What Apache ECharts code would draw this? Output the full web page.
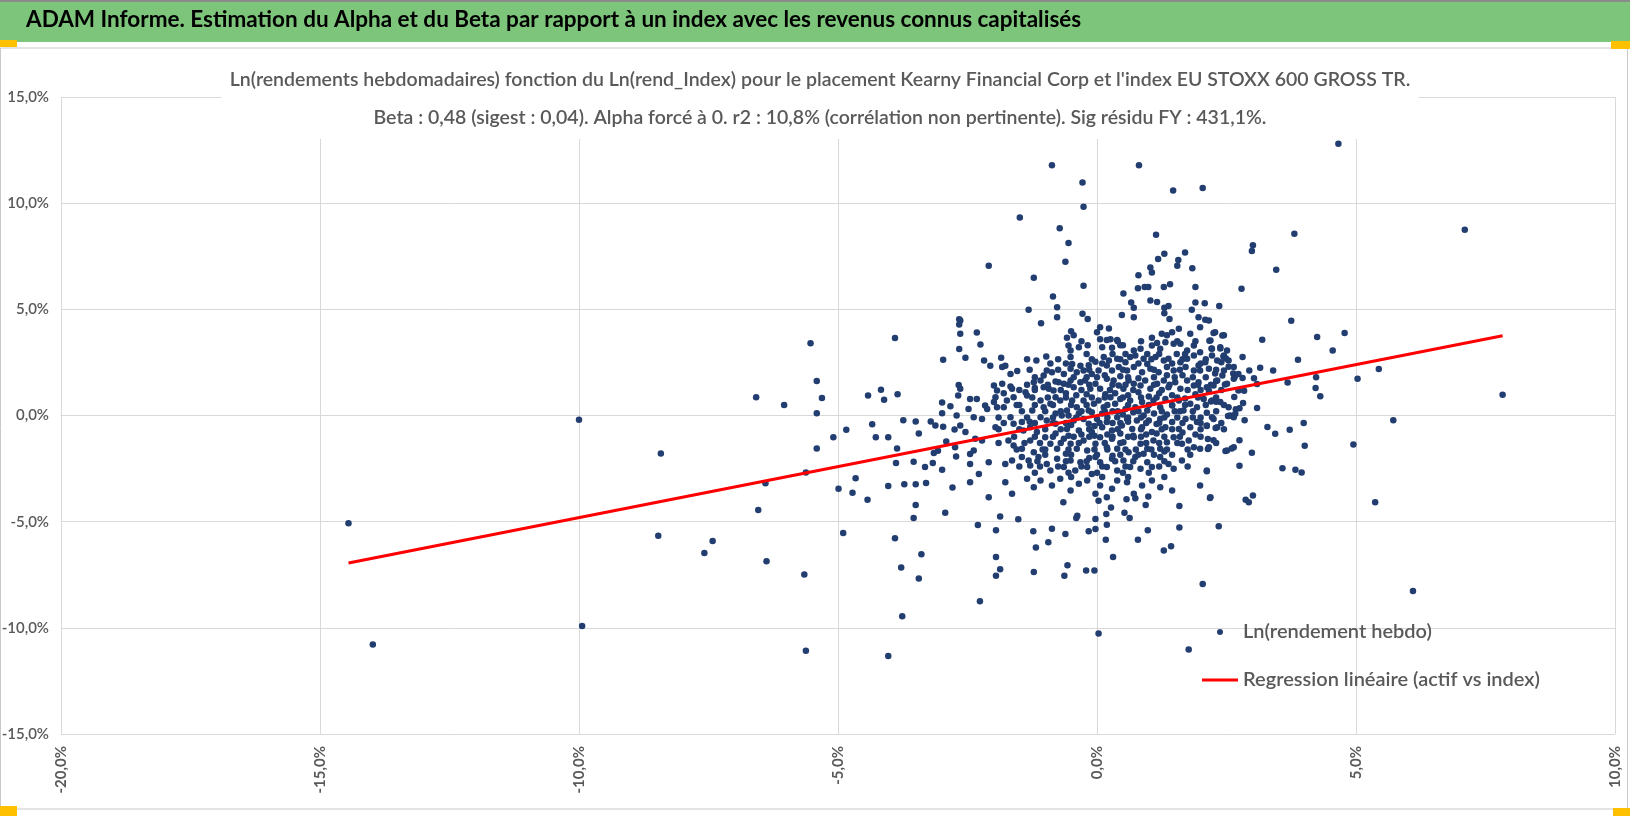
<!DOCTYPE html>
<html>
<head>
<meta charset="utf-8">
<title>ADAM Informe - Alpha et Beta</title>
<script src="https://cdn.jsdelivr.net/npm/echarts@6/dist/echarts.min.js"></script>
<style>
  html, body { margin: 0; padding: 0; background: #fff; overflow: hidden; }
  #main { width: 1630px; height: 816px; }
</style>
</head>
<body>
<div id="main"></div>
<script>
const headerText = 'ADAM Informe. Estimation du Alpha et du Beta par rapport à un index avec les revenus connus capitalisés';
const titleLine1 = "Ln(rendements hebdomadaires) fonction du Ln(rend_Index) pour le placement Kearny Financial Corp et l'index EU STOXX 600 GROSS TR.";
const titleLine2 = 'Beta : 0,48 (sigest : 0,04). Alpha forcé à 0. r2 : 10,8% (corrélation non pertinente). Sig résidu FY : 431,1%.';
const seriesNames = ['Ln(rendement hebdo)', 'Regression linéaire (actif vs index)'];

const xTickValues = [-20, -15, -10, -5, 0, 5, 10];
const xTickLabels = ['-20,0%', '-15,0%', '-10,0%', '-5,0%', '0,0%', '5,0%', '10,0%'];
const yTickValues = [-15, -10, -5, 0, 5, 10, 15];
const yTickLabels = ['-15,0%', '-10,0%', '-5,0%', '0,0%', '5,0%', '10,0%', '15,0%'];

// [index %, asset %] - far left points
const leftPoints = [
  [-14.45,-5.08],[-13.98,-10.79],[-10.0,-0.20],[-9.94,-9.91],[-8.42,-1.79],[-8.47,-5.66],
  [-6.58,0.86],[-6.04,0.49],[-6.40,-3.19],[-6.54,-4.45],[-7.42,-5.91],[-7.58,-6.48],[-6.38,-6.86]
];

// upper outliers and left-centre points
const upperPoints = [
  [-0.87,11.79],[-0.28,10.97],[-0.26,9.83],[0.81,11.79],[1.47,10.6],[2.04,10.72],[-1.49,9.33],
  [-0.72,8.82],[-0.55,8.12],[-0.61,7.24],[-2.09,7.05],[-1.22,6.49],[-0.26,6.11],[-0.85,5.61],
  [1.14,8.51],[1.30,7.62],[1.18,7.37],[1.70,7.68],[1.57,7.32],[1.55,7.05],[1.84,6.93],[0.80,6.61],
  [1.03,6.97],[1.06,6.74],[0.79,5.99],[0.92,6.05],[0.99,6.05],[1.29,6.05],[1.41,6.18],[1.90,6.05],
  [0.51,5.74],
  [-5.53,3.40],[-5.41,1.63],[-5.31,0.82],[-5.41,0.11],[-3.90,3.65],[-4.42,0.94],[-4.17,1.21],
  [-4.11,0.74],[-3.85,1.0],[-2.97,2.63],[-2.66,4.53],[-2.66,4.28],[-2.66,3.13],[-2.67,1.44],
  [-2.68,0.94],[-2.99,0.61],[-2.83,0.44],[-2.99,0.11],[-2.71,0.0]
];

// lower outliers and left-centre points
const lowerPoints = [
  [-5.65,-7.49],[-5.62,-11.08],[-4.90,-5.53],[-4.99,-3.45],[-4.66,-2.95],[-4.72,-3.64],[-4.43,-3.97],
  [-5.09,-1.03],[-4.84,-0.67],[-5.41,-1.55],[-5.62,-2.68],[-4.34,-0.41],[-4.27,-1.03],[-4.03,-1.03],
  [-3.86,-1.55],[-3.88,-2.24],[-4.03,-3.32],[-3.72,-3.24],[-3.50,-3.24],[-3.30,-3.18],[-3.50,-4.22],
  [-3.54,-4.83],[-3.90,-5.78],[-3.39,-6.54],[-3.78,-7.16],[-3.44,-7.68],[-3.76,-9.45],[-4.03,-11.33],
  [-3.74,-0.22],[-3.50,-0.28],[-3.44,-0.85],[-3.21,-0.28],[-3.12,-0.47],[-2.97,-0.53],[-3.54,-2.18],
  [-3.32,-2.43],[-3.17,-2.24],[-3.15,-1.77],[-3.07,-1.66],[-2.99,-2.55],[-2.91,-1.22],[-2.93,-4.58],
  [-2.79,-3.39],[-2.74,-1.50],[-2.72,-1.93],[-2.75,-0.66],
  [-2.30,-5.16],[-2.26,-8.75],[-1.95,-5.41],[-1.95,-6.66],[-1.95,-7.55],[-1.87,-7.24],[-1.87,-4.76],
  [-1.52,-4.89],[-1.23,-5.45],[-1.18,-6.22],[-1.22,-7.37],[-0.94,-5.97],[-0.87,-5.33],[-0.61,-5.58],
  [-0.57,-7.05],[-0.63,-7.55],[-0.65,-4.08],[-0.40,-4.83],[-0.38,-4.72],[-0.16,-5.45],[-0.21,-7.30],
  [-0.05,-7.30],[-0.03,-5.34],[-0.03,-4.87],[0.03,-10.27],[0.17,-5.85],[0.31,-6.66],[0.19,-5.14],
  [0.18,-4.64],[0.27,-4.33],[0.53,-4.58],[0.63,-4.83],[0.79,-5.85],[0.98,-5.41],[1.29,-6.36],
  [1.43,-6.16],[1.59,-5.28],[1.59,-4.26],[1.77,-11.02],[2.04,-7.93],[2.35,-5.22],
  [0.94,-4.22],[0.03,-4.02],[0.74,-3.9],[0.57,-3.95],[0.99,-3.82]
];

// right side
const rightPoints = [
  [4.66,12.80],[7.10,8.75],[3.81,8.56],[3.01,8.02],[2.99,7.75],[3.46,6.86],[2.79,5.97],[3.75,4.46],
  [4.78,3.89],[4.25,3.70],[3.19,3.57],[4.55,3.06],[3.88,2.62],[2.81,2.76],[2.94,2.12],[3.15,2.25],
  [3.40,2.12],[2.81,1.77],[3.03,1.75],[3.09,1.48],[3.68,1.56],[4.23,1.80],[5.03,1.73],[5.44,2.19],
  [4.22,1.30],[4.31,0.91],[7.83,0.98],[5.72,-0.22],[2.84,1.16],[2.82,0.59],[2.85,-0.22],[3.09,0.35],
  [3.29,-0.54],[3.44,-0.86],[3.72,-0.67],[3.99,-0.35],[4.01,-1.43],[4.95,-1.36],[2.99,-1.75],
  [2.75,-1.16],[3.58,-2.49],[3.83,-2.56],[3.95,-2.69],[2.87,-3.97],[2.93,-4.09],[3.01,-3.77],
  [5.37,-4.09],[6.10,-8.26],[2.75,-2.37],
  [2.17,3.52],[2.21,3.16],[2.38,3.15],[2.42,3.77],[2.25,3.89],[2.44,2.78],[2.49,2.69],[2.40,2.51],
  [2.54,2.30],[2.28,1.98],[2.42,1.88],[2.63,1.98],[2.66,1.82],[2.30,1.63],[2.47,1.46],[2.16,1.16],
  [2.65,0.87],[2.75,0.34],[2.68,0.30],[2.62,-0.03],[2.53,-0.02],[2.30,0.65],[2.20,0.66],[2.12,0.13],
  [2.22,-0.08],[2.12,-0.49],[2.29,-0.59],[2.14,-1.11],[2.14,-1.58],[2.25,-1.16],[2.48,-1.67],
  [2.60,-1.55],[2.12,-2.62],[2.18,-3.89]
];

// dense central cloud
const corePoints = [
  [-1.32,4.98],[-0.77,5.10],[-0.77,4.63],[-1.08,4.35],[-0.28,4.79],[-0.18,4.55],[0.48,4.73],[0.66,5.32],
  [0.71,5.07],[0.71,4.63],[1.03,5.42],[1.16,5.35],[1.30,5.07],[1.38,5.16],[1.30,4.82],[1.40,4.54],
  [1.83,4.98],[1.90,5.32],[2.08,5.29],[2.36,5.16],[1.96,4.63],[2.09,4.51],[2.16,4.47],
  [-2.32,3.91],[-2.25,3.34],[-2.64,4.47],[-2.64,3.85],[-0.50,3.97],[-0.45,3.78],[-0.58,3.66],[0.06,4.16],
  [0,3.92],[0.23,4.10],[0.26,3.59],[0.39,3.56],[0.50,3.31],[0.06,3.59],[0.19,3.56],[1.06,3.66],
  [1.16,3.41],[1.25,3.85],[1.35,3.78],[1.45,3.92],[1.58,4.08],[1.80,3.85],[1.99,4.16],[2.28,3.92],[2.45,3.78],
  [-0.55,3.30],[-0.51,3.06],[-0.35,3.22],[-0.18,3.31],[0.10,3.22],[0.29,3.19],[0.45,3.31],[0.71,3.06],
  [0.84,3.14],[0.97,2.90],[1.06,3.30],[1.22,3.14],[1.32,3.45],[1.48,3.38],[1.61,3.38],[1.74,3.06],
  [1.87,3.30],[1.99,2.98],[2.19,3.53],[2.22,3.14],[2.38,3.22],[2.51,3.06],[-2.54,2.72],[-2.18,2.59],
  [-2.06,2.34],[-1.85,2.72],[-1.83,2.28],[-1.77,2.34],[-1.17,2.59],[-0.98,2.78],[-0.97,2.12],
  [-1.67,1.96],[-1.54,2.09],[-0.51,2.75],[-0.48,2.43],[-0.32,2.34],[-0.16,2.37],[-0.03,2.53],[0.13,2.75],
  [0.23,2.59],[0.39,2.67],[0.55,2.51],[0.64,2.75],[0.74,2.83],[0.90,2.67],[0.97,2.43],[1.13,2.75],
  [1.29,2.59],[1.38,2.67],[1.54,2.90],[1.61,2.51],[1.74,2.67],[1.87,2.83],[1.96,2.35],[2.09,2.51],
  [2.22,2.83],[2.32,2.59],[2.45,2.83],[2.54,2.59],[2.64,2.28],[2.73,1.96],[2.45,2.12],[2.16,2.20],
  [1.99,2.12],[1.87,2.12],[1.71,2.28],[1.48,2.12],[1.35,2.28],[1.19,2.04],[1.03,2.20],[0.87,2.04],
  [0.71,2.28],[0.58,2.12],[0.42,2.28],[0.29,2.12],[0.19,2.35],[0.03,2.12],[-0.10,1.96],[-0.26,2.12],
  [-0.39,2.04],[-0.51,2.20],[-0.64,1.96],[-0.87,2.04],[-1.03,1.88],
  [-2.64,1.26],[-1.99,1.41],[-1.96,0.86],[-1.93,1.18],[-1.83,1.49],[-1.80,1.05],[-1.67,1.37],[-1.64,1.26],
  [-1.61,0.86],[-1.38,1.10],[-1.22,1.57],[-1.09,1.65],[-1.03,1.33],[-0.93,1.26],[-0.84,1.18],[-0.74,1.57],
  [-0.64,1.49],[-0.51,1.65],[-0.45,1.33],[-0.32,1.57],[-0.23,1.65],[-0.13,1.26],[-0.03,1.49],[0.06,1.26],
  [0.19,1.73],[0.32,1.65],[0.42,1.41],[0.51,1.26],[0.61,1.65],[0.71,1.49],[0.84,1.41],[0.93,1.65],
  [1.03,1.26],[1.16,1.49],[1.29,1.65],[1.38,1.33],[1.51,1.57],[1.61,1.26],[1.74,1.65],[1.87,1.41],
  [1.96,1.57],[2.12,1.33],[2.25,1.41],[2.32,1.65],[2.51,1.49],[2.64,1.73],[2.73,1.18],
  [-2.45,0.78],[-2.32,0.78],[-2.48,0.31],[-2.16,0.47],[-2.12,0.31],[-1.99,0.63],[-1.93,0.39],[-1.80,0.39],
  [-1.74,0.71],[-1.35,0.94],[-1.25,0.24],[-1.09,0.71],[-1.03,0.39],[-0.90,0.55],[-0.80,0.86],[-0.71,0.71],
  [-0.58,0.24],[-0.48,0.71],[-0.39,0.39],[-0.26,0.71],[-0.16,0.24],[-0.06,0.55],[0.03,0.71],[0.13,0.39],
  [0.26,0.86],[0.35,0.55],[0.45,0.78],[0.55,0.31],[0.64,0.71],[0.74,0.39],[0.87,0.63],[0.97,0.24],
  [1.09,0.71],[1.22,0.39],[1.32,0.78],[1.45,0.47],[1.58,0.71],[1.67,0.24],[1.80,0.55],[1.93,0.39],
  [2.06,0.78],[2.22,0.71],[2.38,0.63],[2.54,0.39],[2.67,0.08],
  [-2.64,-0.47],[-2.54,-0.78],[-2.38,-0.08],[-2.22,-0.16],[-1.96,-0.55],[-1.67,-0.08],[-1.61,-0.39],
  [-1.45,-0.31],[-1.42,-0.71],[-1.29,-0.55],[-1.16,-0.78],[-1.09,-0.08],[-0.97,-0.24],[-0.80,-0.39],
  [-0.68,0],[-0.58,-0.63],[-0.45,-0.24],[-0.35,-0.71],[-0.26,-0.16],[-0.16,-0.39],[-0.10,-0.78],[0,-0.16],
  [0.10,-0.55],[0.19,-0.31],[0.29,-0.71],[0.39,-0.08],[0.48,-0.47],[0.58,-0.16],[0.68,-0.63],[0.77,-0.24],
  [0.87,-0.55],[1.00,-0.24],[1.06,-0.78],[1.22,-0.16],[1.32,-0.55],[1.45,-0.31],[1.58,-0.63],[1.71,-0.16],
  [1.80,-0.55],[1.93,-0.31],[2.12,-0.47],[2.25,-0.16],[2.32,-0.55],[2.57,0],[2.64,-0.08],
  [-2.35,-1.10],[-2.22,-1.18],[-2.45,-1.81],[-2.38,-1.65],[-1.71,-1.18],[-1.61,-1.41],[-1.45,-1.57],
  [-1.29,-1.18],[-1.22,-1.73],[-1.00,-1.02],[-0.90,-1.33],[-0.77,-1.57],[-0.64,-1.10],[-0.51,-1.33],
  [-0.39,-1.57],[-0.26,-1.18],[-0.19,-1.65],[-0.03,-1.33],[0.06,-1.02],[0.19,-1.49],[0.29,-1.10],
  [0.39,-1.57],[0.51,-1.26],[0.61,-1.73],[0.71,-1.02],[0.84,-1.33],[0.97,-1.57],[1.09,-1.18],[1.22,-1.57],
  [1.35,-1.26],[1.48,-1.02],[1.64,-1.33],[1.77,-1.18],[1.87,-1.49],[1.99,-1.57],[2.16,-1.49],[2.51,-1.65],
  [2.64,-1.49],
  [-2.45,-2.28],[-2.28,-2.75],[-2.09,-2.20],[-1.77,-2.28],[-1.64,-2.12],[-1.45,-1.96],[-1.32,-2.12],
  [-1.29,-2.35],[-1.13,-1.96],[-0.97,-2.28],[-0.90,-2.59],[-0.77,-2.04],[-0.64,-2.43],[-0.51,-2.12],
  [-0.42,-2.59],[-0.32,-2.20],[-0.19,-2.43],[-0.10,-2.75],[-0.03,-1.96],[0.06,-2.20],[0.19,-2.43],
  [0.29,-2.04],[0.39,-2.59],[0.51,-2.12],[0.64,-2.43],[0.74,-1.96],[0.84,-2.51],[0.97,-2.20],[1.06,-2.43],
  [1.22,-1.96],[1.38,-2.28],[1.48,-2.51],[1.64,-2.12],[2.12,-2.59],
  [-2.45,-3.14],[-2.09,-3.85],[-1.77,-3.14],[-1.64,-3.69],[-1.35,-2.98],[-1.22,-3.38],[-1.09,-3.06],
  [-0.87,-3.30],[-0.71,-2.98],[-0.51,-3.53],[-0.35,-3.22],[-0.19,-3.06],[-0.03,-3.69],[0.06,-3.30],
  [0.19,-3.85],[0.29,-3.45],[0.39,-3.06],[0.58,-3.14],[0.71,-3.69],[0.87,-3.30],[1.06,-3.06],[1.22,-3.38],
  [1.45,-3.53],[1.99,-3.30],[2.19,-3.85]
];

// extra overlapping dots in the darkest part of the cloud
const coreExtraPoints = [
  [0.16,1.0],[0.35,1.05],[0.6,0.95],[0.8,1.1],[1.0,0.9],[1.2,1.05],[1.45,0.95],[-0.2,1.0],[-0.4,0.95],
  [-0.6,1.05],[0.1,0.1],[0.3,0.2],[0.5,0.05],[0.7,0.15],[0.9,0.0],[1.1,0.1],[1.35,0.05],[-0.1,0.15],
  [-0.35,0.1],[-0.55,0.0],[-0.8,0.1],[0.2,-0.9],[0.45,-0.85],[0.7,-0.95],[0.95,-0.9],[1.15,-0.85],
  [-0.05,-0.95],[-0.3,-0.9],[-0.55,-0.95],[-0.8,-0.85],[0.3,-0.35],[0.6,-0.3],[0.85,-0.1],[-0.05,-0.5],
  [-0.5,-0.45],[1.15,-0.4],[1.5,0.2],[1.7,0.8],[1.9,1.0],[2.0,-0.1],[1.65,-0.8],[1.9,-0.9],[0.15,1.9],
  [0.45,1.85],[0.8,1.75],[1.1,1.8],[1.35,1.9],[1.65,1.9],[-0.2,1.8],[-0.8,1.6],[0.3,-1.9],[0.55,-1.6],
  [0.9,-1.8],[-0.15,-2.0],[-0.6,-1.8],[1.3,-1.7],[-1.0,-1.6],[-1.3,-0.3],[-1.5,0.5],[-1.2,1.3]
];

// second layer filling the solid part of the cloud
const coreFillPoints = [
  [-0.2,2.9],[0.3,2.9],[0.55,2.9],[1.2,2.9],[1.7,2.9],
  [-0.9,2.45],[-0.6,2.45],[0.1,2.45],[0.8,2.45],[1.45,2.45],[2.0,2.45],
  [-1.2,1.8],[-0.45,1.8],[0.0,1.8],[0.6,1.8],[1.5,1.8],[1.85,1.8],[2.1,1.8],
  [-1.5,1.2],[-1.2,1.2],[-0.7,1.2],[-0.3,1.2],[0.25,1.2],[0.7,1.2],[1.25,1.2],[1.75,1.2],[2.0,1.2],[2.4,1.2],
  [-1.55,0.5],[-1.2,0.5],[-0.85,0.5],[-0.5,0.5],[-0.2,0.5],[0.2,0.5],[0.6,0.5],[1.0,0.5],[1.45,0.5],
  [1.7,0.5],[2.1,0.5],[2.45,0.5],
  [-1.9,-0.1],[-1.35,-0.1],[-0.85,-0.1],[-0.4,-0.1],[0.2,-0.1],[0.6,-0.1],[1.3,-0.1],[1.55,-0.1],[1.85,-0.1],
  [-1.9,-0.65],[-1.5,-0.65],[-1.0,-0.65],[-0.7,-0.65],[-0.15,-0.65],[0.4,-0.65],[0.85,-0.65],[1.25,-0.65],
  [1.45,-0.65],[2.0,-0.65],[2.45,-0.65],
  [-1.9,-1.3],[-1.4,-1.3],[-1.1,-1.3],[-0.7,-1.3],[-0.35,-1.3],[0.15,-1.3],[0.45,-1.3],[0.95,-1.3],
  [1.2,-1.3],[1.55,-1.3],[2.3,-1.3],
  [-1.0,-1.85],[-0.5,-1.85],[0.0,-1.85],[0.45,-1.85],[0.8,-1.85],[1.1,-1.85],[1.45,-1.85],[1.8,-1.85],
  [-1.5,-2.4],[-1.1,-2.4],[-0.75,-2.4],[-0.3,-2.4],[0.1,-2.4],[0.55,-2.4],[1.2,-2.4],[1.75,-2.4],
  [-0.5,-2.9],[0.1,-2.9],[0.6,-2.9],[1.3,-2.9]
];

// third layer, between the rows above
const coreFill2Points = [
  [-0.3,3.5],[0.4,3.5],[0.85,3.5],[1.55,3.5],[1.9,3.5],
  [-1.35,2.65],[-0.75,2.65],[-0.1,2.65],[0.45,2.65],[1.05,2.65],[1.65,2.65],[2.1,2.65],
  [-1.3,2.15],[-0.75,2.15],[-0.15,2.15],[0.5,2.15],[1.1,2.15],[1.6,2.15],[2.3,2.15],
  [-1.35,1.45],[-0.95,1.45],[-0.55,1.45],[-0.15,1.45],[0.3,1.45],[0.55,1.45],[1.1,1.45],[1.4,1.45],
  [1.95,1.45],[2.2,1.45],
  [-1.25,0.85],[-0.95,0.85],[-0.6,0.85],[-0.1,0.85],[0.15,0.85],[0.5,0.85],[0.85,0.85],[1.15,0.85],
  [1.55,0.85],[1.95,0.85],[2.3,0.85],
  [-1.45,0.2],[-1.0,0.2],[-0.7,0.2],[-0.3,0.2],[0.15,0.2],[0.4,0.2],[0.8,0.2],[1.25,0.2],[1.6,0.2],
  [1.85,0.2],[2.3,0.2],
  [-1.8,-0.35],[-1.2,-0.35],[-0.85,-0.35],[-0.6,-0.35],[0.05,-0.35],[0.45,-0.35],[0.95,-0.35],
  [1.2,-0.35],[1.65,-0.35],[2.0,-0.35],[2.4,-0.35],
  [-1.6,-1.0],[-1.2,-1.0],[-0.85,-1.0],[-0.45,-1.0],[-0.15,-1.0],[0.3,-1.0],[0.6,-1.0],[0.85,-1.0],
  [1.3,-1.0],[1.6,-1.0],[2.0,-1.0],
  [-1.55,-1.6],[-1.05,-1.6],[-0.55,-1.6],[-0.05,-1.6],[0.2,-1.6],[0.75,-1.6],[1.05,-1.6],[1.35,-1.6],
  [1.75,-1.6],
  [-1.15,-2.15],[-0.6,-2.15],[-0.2,-2.15],[0.35,-2.15],[0.7,-2.15],[1.3,-2.15],
  [-1.2,-2.7],[-0.55,-2.7],[0.0,-2.7],[0.5,-2.7],[1.0,-2.7]
];

// fitted line, end points
const regressionPoints = [[-14.45,-6.95],[7.83,3.76]];

const scatterData = leftPoints.concat(upperPoints, lowerPoints, rightPoints, corePoints,
  coreExtraPoints, coreFillPoints, coreFill2Points);

const W = 1630;
const font = 'Lato, "Noto Sans", sans-serif';

let myChart = echarts.init(document.getElementById('main'));
let option = {
  animation: false,
  backgroundColor: '#fff',
  title: {
    text: titleLine1 + '\n' + titleLine2,
    left: 812,
    top: 59,
    textAlign: 'center',
    padding: [2, 8],
    backgroundColor: '#fff',
    textStyle: {
      fontFamily: font,
      fontSize: 19.5,
      fontWeight: 600,
      lineHeight: 38,
      color: '#595959'
    }
  },
  legend: {
    orient: 'vertical',
    left: 1197,
    top: 617,
    itemWidth: 36,
    itemHeight: 6,
    itemGap: 28,
    data: [
      { name: seriesNames[0], icon: 'circle' },
      { name: seriesNames[1], icon: 'path://M0 0H36V3H0Z' }
    ],
    textStyle: { fontFamily: font, fontSize: 20, fontWeight: 600, color: '#595959' }
  },
  grid: { left: 61, right: 15, top: 97, bottom: 82, containLabel: false, outerBoundsMode: 'none' },
  xAxis: {
    type: 'value',
    min: -20,
    max: 10,
    interval: 5,
    axisLine: { show: true, lineStyle: { color: '#d9d9d9' } },
    axisTick: { show: false },
    splitLine: { show: true, lineStyle: { color: '#d9d9d9' } },
    axisLabel: {
      rotate: 90,
      margin: 12,
      fontFamily: font,
      fontSize: 15,
      fontWeight: 'bold',
      color: '#595959',
      formatter: function (v) { return xTickLabels[xTickValues.indexOf(v)] || ''; }
    }
  },
  yAxis: {
    type: 'value',
    min: -15,
    max: 15,
    interval: 5,
    axisLine: { show: true, lineStyle: { color: '#d9d9d9' } },
    axisTick: { show: false },
    splitLine: { show: true, lineStyle: { color: '#d9d9d9' } },
    axisLabel: {
      margin: 12,
      fontFamily: font,
      fontSize: 15,
      fontWeight: 600,
      color: '#595959',
      formatter: function (v) { return yTickLabels[yTickValues.indexOf(v)] || ''; }
    }
  },
  series: [
    {
      name: seriesNames[0],
      type: 'scatter',
      symbol: 'circle',
      symbolSize: 6.5,
      itemStyle: { color: '#223d6f', opacity: 1 },
      data: scatterData
    },
    {
      name: seriesNames[1],
      type: 'line',
      symbol: 'none',
      lineStyle: { color: '#ff0000', width: 3 },
      itemStyle: { color: '#ff0000' },
      data: regressionPoints
    }
  ],
  graphic: [
    { type: 'rect', shape: { x: 0, y: 0, width: W, height: 42 }, style: { fill: '#7dc57b' }, z: 10 },
    { type: 'rect', shape: { x: 0, y: 0, width: W, height: 2 }, style: { fill: '#8a8a8a' }, z: 11 },
    { type: 'text', left: 26, top: 8, z: 12,
      style: { text: headerText, font: 'bold 22.5px ' + font, fill: '#000' } },
    { type: 'rect', shape: { x: 0.5, y: 48, width: W - 3, height: 761 },
      style: { fill: 'none', stroke: '#c8c8c8', lineWidth: 1 }, z: 1 },
    { type: 'rect', shape: { x: 0, y: 40, width: 17, height: 7 }, style: { fill: '#ffc000' }, z: 12 },
    { type: 'rect', shape: { x: W - 19, y: 41, width: 19, height: 8 }, style: { fill: '#ffc000' }, z: 12 },
    { type: 'rect', shape: { x: 0, y: 806, width: 17, height: 10 }, style: { fill: '#ffc000' }, z: 12 },
    { type: 'rect', shape: { x: W - 17, y: 808, width: 17, height: 8 }, style: { fill: '#ffc000' }, z: 12 }
  ]
};
myChart.setOption(option);
</script>
</body>
</html>
